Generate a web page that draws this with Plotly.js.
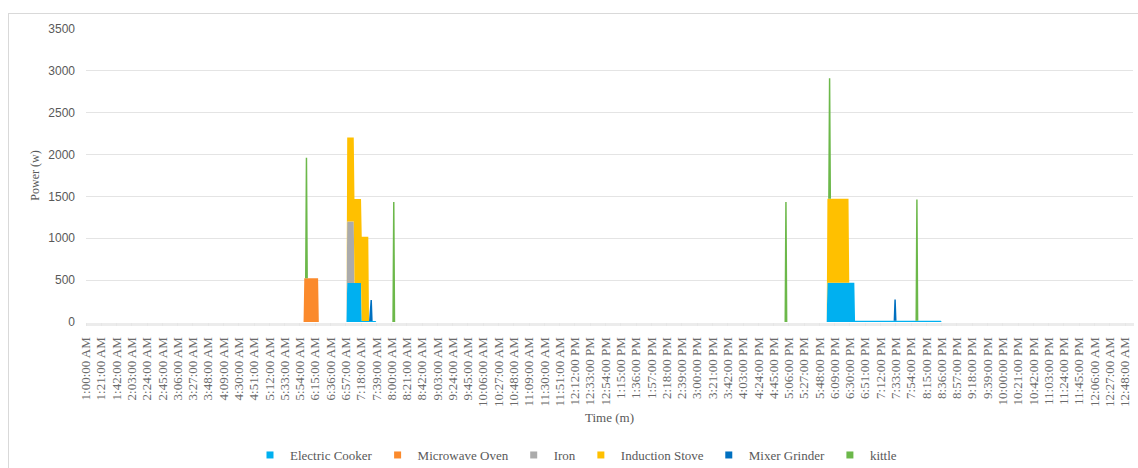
<!DOCTYPE html>
<html>
<head>
<meta charset="utf-8">
<script src="https://cdn.plot.ly/plotly-3.0.1.min.js"></script>
<style>
  html, body { margin: 0; padding: 0; background: #fff; }
  #wrap { position: relative; width: 1138px; height: 468px; overflow: hidden; }
  #chart { position: absolute; left: 0; top: 0; width: 1138px; height: 468px; }
  #frame { position: absolute; left: 8px; top: 13px; width: 1200px; height: 500px;
           border-left: 1px solid #d9d9d9; border-top: 1px solid #d9d9d9; pointer-events: none; }
</style>
</head>
<body>
<div id="wrap">
  <div id="chart"></div>
  <div id="frame"></div>
</div>
<script>
// ---- Data ----
// Tick labels on the time axis (every 21 minutes, starting 1:00 AM)
const tickLabels = [
  "1:00:00 AM","1:21:00 AM","1:42:00 AM","2:03:00 AM","2:24:00 AM","2:45:00 AM","3:06:00 AM","3:27:00 AM",
  "3:48:00 AM","4:09:00 AM","4:30:00 AM","4:51:00 AM","5:12:00 AM","5:33:00 AM","5:54:00 AM","6:15:00 AM",
  "6:36:00 AM","6:57:00 AM","7:18:00 AM","7:39:00 AM","8:00:00 AM","8:21:00 AM","8:42:00 AM","9:03:00 AM",
  "9:24:00 AM","9:45:00 AM","10:06:00 AM","10:27:00 AM","10:48:00 AM","11:09:00 AM","11:30:00 AM","11:51:00 AM",
  "12:12:00 PM","12:33:00 PM","12:54:00 PM","1:15:00 PM","1:36:00 PM","1:57:00 PM","2:18:00 PM","2:39:00 PM",
  "3:00:00 PM","3:21:00 PM","3:42:00 PM","4:03:00 PM","4:24:00 PM","4:45:00 PM","5:06:00 PM","5:27:00 PM",
  "5:48:00 PM","6:09:00 PM","6:30:00 PM","6:51:00 PM","7:12:00 PM","7:33:00 PM","7:54:00 PM","8:15:00 PM",
  "8:36:00 PM","8:57:00 PM","9:18:00 PM","9:39:00 PM","10:00:00 PM","10:21:00 PM","10:42:00 PM","11:03:00 PM",
  "11:24:00 PM","11:45:00 PM","12:06:00 AM","12:27:00 AM","12:48:00 AM"
];

const seriesNames = ["Electric Cooker","Microwave Oven","Iron","Induction Stove","Mixer Grinder","kittle"];

// On-periods per appliance: [start, end (exclusive), power in W]
const electricCooker = [["6:59 AM","7:19 AM",465],["7:19 AM","7:39 AM",12],["5:59 PM","6:37 PM",468],["6:37 PM","8:36 PM",14]];
const microwaveOven  = [["6:00 AM","6:20 AM",522]];
const iron           = [["6:59 AM","7:09 AM",735]];
const inductionStove = [["6:59 AM","7:29 AM",1005],["5:59 PM","6:29 PM",1005]];
const mixerGrinder   = [["7:30 AM","7:34 AM",250],["7:31 PM","7:34 PM",255]];
const kittle         = [["6:02 AM","6:05 AM",1440],["8:02 AM","8:05 AM",1432],["5:01 PM","5:04 PM",1432],
                        ["6:01 PM","6:04 PM",1440],["8:01 PM","8:04 PM",1450]];

const colors = ["#00B0F0","#FB8A2C","#ABABAB","#FFC000","#0070C0","#6CB84A"];

// ---- Build per-minute series (1440 minutes from 1:00 AM) ----
const N = 1440;
const minuteIdx = Array.from({length: N}, (_, i) => i);
function toIdx(s) {
  const [hm, ap] = s.split(" ");
  let [h, m] = hm.split(":").map(Number);
  if (ap === "AM" && h === 12) h = 0;
  if (ap === "PM" && h !== 12) h += 12;
  return ((h * 60 + m) - 60 + 1440) % 1440;
}
function expand(periods) {
  const y = new Array(N).fill(0);
  periods.forEach(([a, b, w]) => {
    const s = toIdx(a), e = toIdx(b);
    for (let i = s; i < e; i++) y[i] = w;
  });
  return y;
}
const allSeries = [electricCooker, microwaveOven, iron, inductionStove, mixerGrinder, kittle];

const traces = [];
allSeries.forEach((p, k) => {
  traces.push({
    type: "scatter", mode: "lines", x: minuteIdx, y: expand(p),
    stackgroup: "one", fill: "tonexty", fillcolor: colors[k],
    line: {width: 0, color: colors[k]}, name: seriesNames[k],
    showlegend: false, hoverinfo: "skip"
  });
});
// legend swatches (small squares, like the reference)
seriesNames.forEach((n, k) => {
  traces.push({
    type: "scatter", mode: "markers", x: [null], y: [null], name: n,
    marker: {symbol: "square", size: 7, color: colors[k]}, showlegend: true
  });
});

const tickVals = tickLabels.map((_, i) => i * 21);
const serif = "Liberation Serif, Times New Roman, serif";

const layout = {
  width: 1138, height: 468,
  margin: {l: 86, r: 5, t: 29, b: 146, autoexpand: false},
  paper_bgcolor: "#ffffff", plot_bgcolor: "#ffffff",
  showlegend: true,
  legend: {
    orientation: "h", traceorder: "normal", x: 0.468, xanchor: "center", y: -0.454, yanchor: "middle",
    font: {family: serif, size: 13, color: "#595959"},
    itemwidth: 30, tracegroupgap: 0
  },
  xaxis: {
    range: [0, N - 1], tickvals: tickVals, ticktext: tickLabels, tickangle: -90,
    tickfont: {family: serif, size: 13, color: "#6a6a6a"},
    showgrid: false, zeroline: false, showline: false, automargin: false,
    ticks: "outside", ticklen: 3, tickcolor: "#e6e6e6", tickwidth: 1,
    minor: {dtick: 1, tick0: 0, ticks: "outside", ticklen: 3, tickcolor: "#ececec", tickwidth: 1, showgrid: false},
    ticklabelstandoff: 6,
    title: {text: "Time (m)", font: {family: serif, size: 13, color: "#595959"}, standoff: 6}
  },
  yaxis: {
    range: [0, 3500], dtick: 500, tick0: 0, automargin: false,
    tickfont: {family: "Liberation Sans, Arial, sans-serif", size: 12, color: "#595959"},
    showgrid: true, gridcolor: "#e4e4e4", gridwidth: 1, zeroline: false, showline: false,
    ticks: "", ticklabelstandoff: 10,
    title: {text: "Power (w)", font: {family: serif, size: 12, color: "#595959"}, standoff: 6}
  }
};

Plotly.newPlot("chart", traces, layout, {displayModeBar: false, staticPlot: true});
</script>
</body>
</html>
